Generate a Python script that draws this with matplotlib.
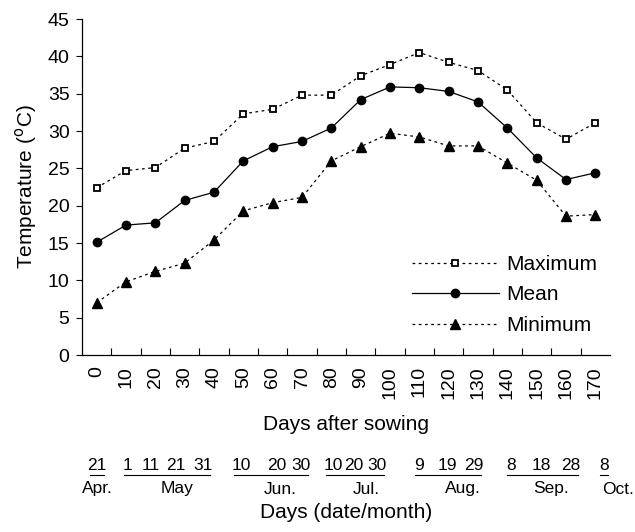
import matplotlib
matplotlib.use("Agg")
import matplotlib.pyplot as plt
from matplotlib.lines import Line2D
import numpy as np

plt.rcParams['font.family'] = ['Liberation Sans', 'DejaVu Sans']

# data
days = [0, 10, 20, 30, 40, 50, 60, 70, 80, 90, 100, 110, 120, 130, 140, 150, 160, 170]
t_max = [22.4, 24.7, 25.1, 27.7, 28.6, 32.3, 32.9, 34.8, 34.8, 37.4, 38.9, 40.5, 39.2, 38.1, 35.5, 31.1, 28.9, 31.1]
t_mean = [15.1, 17.4, 17.7, 20.7, 21.8, 26.0, 27.9, 28.6, 30.4, 34.2, 35.9, 35.8, 35.3, 33.9, 30.4, 26.4, 23.5, 24.4]
t_min = [7.0, 9.8, 11.2, 12.3, 15.4, 19.3, 20.4, 21.1, 26.0, 27.9, 29.7, 29.2, 28.0, 28.0, 25.7, 23.4, 18.6, 18.8]

# calendar dates under the axis (grouped by month)
date_groups = [["21"], ["1", "11", "21", "31"], ["10", "20", "30"], ["10", "20", "30"],
               ["9", "19", "29"], ["8", "18", "28"], ["8"]]
months = ["Apr.", "May", "Jun.", "Jul.", "Aug.", "Sep.", "Oct."]

# pixel positions of the date annotations (layout only)
date_px = [[97], [128, 151, 176, 203], [241, 277, 301], [333, 354, 377],
           [419, 447, 474], [511, 541, 571], [604]]
month_px = [97, 177, 280, 366, 463, 551, 618]

W, H = 635, 532
fig = plt.figure(figsize=(W / 100, H / 100), dpi=100)
ax = fig.add_axes([82 / W, 1 - 355 / H, 528 / W, 336 / H])

x = np.arange(len(days))
dash = (0, (2.2, 2.8))
ax.plot(x, t_max, linestyle=dash, color='black', linewidth=0.9,
        marker='s', markersize=5, markerfacecolor='white', markeredgewidth=1.3,
        label='Maximum')
ax.plot(x, t_mean, linestyle='-', color='black', linewidth=0.9,
        marker='o', markersize=6, label='Mean')
ax.plot(x, t_min, linestyle=dash, color='black', linewidth=0.9,
        marker='^', markersize=6.5, label='Minimum')

# axes
ax.set_xlim(-0.5, len(days) - 0.5)
ax.set_ylim(0, 45)
ax.set_yticks(np.arange(0, 50, 5))
ax.tick_params(axis='y', labelsize=14, direction='out', length=4, width=0.8, pad=5)
ax.set_xticks(x)
ax.set_xticklabels([str(d) for d in days], rotation=90, fontsize=14)
ax.tick_params(axis='x', which='major', length=0, pad=8)
ax.set_xticks(x[:-1] + 0.5, minor=True)
ax.tick_params(axis='x', which='minor', direction='in', length=5, width=0.8)
for s in ['top', 'right']:
    ax.spines[s].set_visible(False)
for s in ['left', 'bottom']:
    ax.spines[s].set_linewidth(0.9)

ax.set_ylabel(r'Temperature ($^{\rm o}$C)', fontsize=15, labelpad=6)

leg = ax.legend(loc='lower right', bbox_to_anchor=(0.976, 0.06), frameon=False,
                fontsize=15, handlelength=4.2, handletextpad=0.35,
                labelspacing=0.55, borderaxespad=0, borderpad=0)

# x axis titles and date annotations
fig.text(346 / W, 1 - 425 / H, 'Days after sowing', ha='center', va='center', fontsize=15)
for grp, pxs in zip(date_groups, date_px):
    for lab, px in zip(grp, pxs):
        fig.text(px / W, 1 - 466 / H, lab, ha='center', va='center', fontsize=12.5)
    x0 = pxs[0] - 7 if len(grp[0]) > 1 else pxs[0] - 4
    x1 = pxs[-1] + 7 if len(grp[-1]) > 1 else pxs[-1] + 4
    fig.add_artist(Line2D([x0 / W, x1 / W], [1 - 475 / H, 1 - 475 / H],
                          transform=fig.transFigure, color='black', linewidth=0.8))
for m, px in zip(months, month_px):
    fig.text(px / W, 1 - 489 / H, m, ha='center', va='center', fontsize=12.5)
fig.text(346 / W, 1 - 512 / H, 'Days (date/month)', ha='center', va='center', fontsize=15)

fig.savefig('out.png', dpi=100)
